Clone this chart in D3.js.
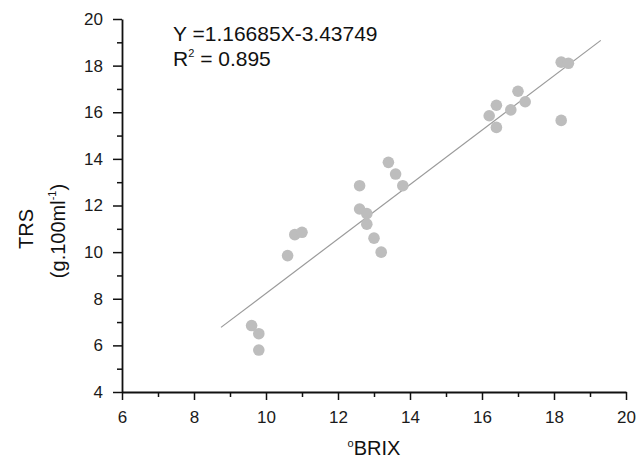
<!DOCTYPE html>
<html>
<head>
<meta charset="utf-8">
<script src="https://cdn.jsdelivr.net/npm/d3@7"></script>
<style>
  html, body { margin: 0; padding: 0; background: #fff; }
  svg { display: block; font-family: Arial, "Liberation Sans", sans-serif; }
</style>
</head>
<body>
<div id="chart"></div>
<script>
// valores
const brix = [9.6, 9.8, 9.8, 10.6, 10.8, 11.0, 12.6, 12.6, 12.8, 12.8, 13.0, 13.2, 13.4, 13.6, 13.8,
              16.2, 16.4, 16.4, 16.8, 17.0, 17.2, 18.2, 18.4, 18.2];
const trs  = [6.85, 6.5, 5.8, 9.85, 10.75, 10.85, 12.85, 11.85, 11.65, 11.2, 10.6, 10.0, 13.85, 13.35, 12.85,
              15.85, 16.3, 15.35, 16.1, 16.9, 16.45, 18.15, 18.1, 15.65];
const slope = 1.16685;
const intercept = -3.43749;
const fitRange = [8.75, 19.3];
const xTicks = [6, 8, 10, 12, 14, 16, 18, 20];
const yTicks = [4, 6, 8, 10, 12, 14, 16, 18, 20];

const width = 636;
const height = 459;
const margin = { top: 19, right: 10, bottom: 67, left: 122 };

const svg = d3.select("#chart")
    .append("svg")
    .attr("width", width)
    .attr("height", height);

const x = d3.scaleLinear().domain([6, 20]).range([margin.left, width - margin.right]);
const y = d3.scaleLinear().domain([4, 20]).range([height - margin.bottom, margin.top]);

// ticks menores
svg.append("g")
    .attr("transform", `translate(0,${height - margin.bottom})`)
    .call(d3.axisBottom(x).tickValues(d3.range(7, 20, 2)).tickSize(5).tickFormat(""))
    .call(g => g.select(".domain").remove())
    .selectAll("line").attr("stroke", "#111").attr("stroke-width", 1.5);

svg.append("g")
    .attr("transform", `translate(${margin.left},0)`)
    .call(d3.axisLeft(y).tickValues(d3.range(5, 20, 2)).tickSize(5).tickFormat(""))
    .call(g => g.select(".domain").remove())
    .selectAll("line").attr("stroke", "#111").attr("stroke-width", 1.5);

// eixos principais
const xAxis = svg.append("g")
    .attr("transform", `translate(0,${height - margin.bottom})`)
    .call(d3.axisBottom(x).tickValues(xTicks).tickSize(8).tickSizeOuter(0).tickPadding(11));

const yAxis = svg.append("g")
    .attr("transform", `translate(${margin.left},0)`)
    .call(d3.axisLeft(y).tickValues(yTicks).tickSize(9).tickSizeOuter(0).tickPadding(10));

[xAxis, yAxis].forEach(g => {
    g.select(".domain").attr("stroke", "#111").attr("stroke-width", 1.8);
    g.selectAll("line").attr("stroke", "#111").attr("stroke-width", 1.5);
    g.selectAll("text")
        .attr("fill", "#1a1a1a")
        .style("font-size", "17px")
        .style("font-family", "Arial, 'Liberation Sans', sans-serif");
});

// reta de regressão
svg.append("line")
    .attr("x1", x(fitRange[0]))
    .attr("y1", y(slope * fitRange[0] + intercept))
    .attr("x2", x(fitRange[1]))
    .attr("y2", y(slope * fitRange[1] + intercept))
    .attr("stroke", "#9a9a9a")
    .attr("stroke-width", 1.2);

// pontos
svg.selectAll(".pt")
    .data(brix.map((b, i) => ({ b, t: trs[i] })))
    .enter()
    .append("circle")
    .attr("class", "pt")
    .attr("cx", d => x(d.b))
    .attr("cy", d => y(d.t))
    .attr("r", 5.8)
    .attr("fill", "#bdbdbd");

// equação
svg.append("text")
    .attr("x", 173)
    .attr("y", 41)
    .attr("fill", "#111")
    .style("font-size", "21px")
    .text(`Y =${slope}X${intercept}`);

const r2 = svg.append("text")
    .attr("x", 173)
    .attr("y", 66)
    .attr("fill", "#111")
    .style("font-size", "21px");
r2.append("tspan").text("R");
r2.append("tspan").attr("dy", -9).style("font-size", "11px").text("2");
r2.append("tspan").attr("dy", 9).text(" = 0.895");

// título do eixo x
const xt = svg.append("text")
    .attr("x", (margin.left + width - margin.right) / 2)
    .attr("y", 455)
    .attr("text-anchor", "middle")
    .attr("fill", "#111")
    .style("font-size", "20px");
xt.append("tspan").attr("dy", -8).style("font-size", "11px").text("o");
xt.append("tspan").attr("dy", 8).text("BRIX");

// título do eixo y
svg.append("text")
    .attr("transform", "translate(33,229) rotate(-90)")
    .attr("text-anchor", "middle")
    .attr("fill", "#111")
    .style("font-size", "20px")
    .text("TRS");

const yt = svg.append("text")
    .attr("transform", "translate(65,231) rotate(-90)")
    .attr("text-anchor", "middle")
    .attr("fill", "#111")
    .style("font-size", "20px");
yt.append("tspan").text("(g.100ml");
yt.append("tspan").attr("dy", -9).style("font-size", "11px").text("-1");
yt.append("tspan").attr("dy", 9).text(")");
</script>
</body>
</html>
